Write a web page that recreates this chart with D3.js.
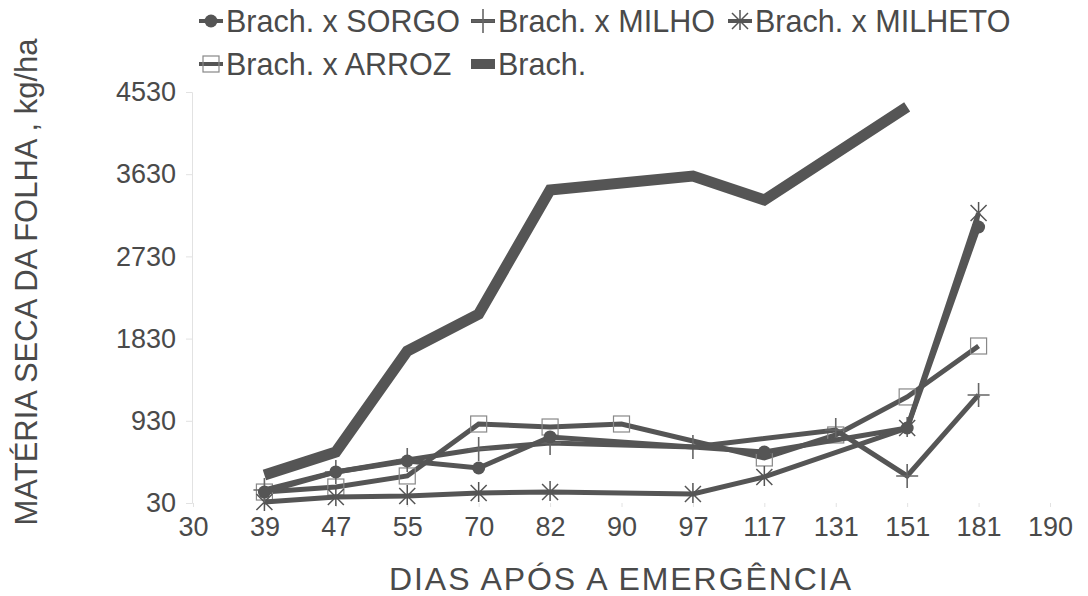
<!doctype html>
<html>
<head>
<meta charset="utf-8">
<script src="https://d3js.org/d3.v7.min.js"></script>
<style>
  body { margin: 0; background: #fff; }
  text { font-family: "Liberation Sans", Arial, sans-serif; fill: #4a4a4a; }
</style>
</head>
<body>
<svg width="1088" height="596"></svg>
<script>

// x categories (days after emergence); 30 and 190 are only axis ends
var xLabels = ["30", "39", "47", "55", "70", "82", "90", "97", "117", "131", "151", "181", "190"];
var dias = ["39", "47", "55", "70", "82", "90", "97", "117", "131", "151", "181"];
var yTicks = [30, 930, 1830, 2730, 3630, 4530];

// values (null = no point at that date)
var sorgo   = [150, 370, 490, 413, 753, null, null, 588, null, 851, 3052];
var milho   = [172, 370, 501, 621, 687, null, 643, null, 829, 326, 1213];
var milheto = [41, 96, 107, 140, 150, null, 129, 315, null, 851, 3205];
var arroz   = [150, 205, 326, 895, 862, 895, null, 523, 775, 1191, 1749];
var brach   = [337, 588, 1694, 2099, 3457, null, 3610, 3348, null, 4366, null];

var ink = "#555";

var svg = d3.select("svg");

var x = d3.scalePoint().domain(xLabels).range([193, 1050]);
var y = d3.scaleLinear().domain([30, 4530]).range([503, 92]);

// faint axes
var yAxis = svg.append("g")
    .attr("transform", "translate(192,0)")
    .call(d3.axisLeft(y).tickValues(yTicks).tickFormat(d3.format("d")).tickSize(6).tickPadding(10));
yAxis.select(".domain").attr("stroke", "#e2e2e2");
yAxis.selectAll(".tick line").attr("stroke", "#e2e2e2");
yAxis.selectAll("text")
    .style("font-size", "27px")
    .attr("fill", "#4a4a4a")
    .attr("font-family", "Liberation Sans, Arial, sans-serif");

var xAxis = svg.append("g")
    .attr("transform", "translate(0,503)")
    .call(d3.axisBottom(x).tickSize(4).tickPadding(10));
xAxis.select(".domain").attr("stroke", "none");
xAxis.selectAll(".tick line").attr("stroke", "#e2e2e2");
xAxis.selectAll("text")
    .style("font-size", "27px")
    .attr("fill", "#4a4a4a")
    .attr("font-family", "Liberation Sans, Arial, sans-serif");

// axis titles
svg.append("text")
    .attr("x", 620)
    .attr("y", 590)
    .attr("text-anchor", "middle")
    .style("font-size", "32px")
    .attr("textLength", 462)
    .text("DIAS APÓS A EMERGÊNCIA");

svg.append("text")
    .attr("transform", "translate(37,282) rotate(-90)")
    .attr("text-anchor", "middle")
    .style("font-size", "31px")
    .text("MATÉRIA SECA DA FOLHA , kg/ha");

function pts(vals) {
    return dias.map(function(d, i) { return { d: d, v: vals[i] }; })
        .filter(function(p) { return p.v !== null; });
}

var line = d3.line()
    .x(function(p) { return x(p.d); })
    .y(function(p) { return y(p.v); });

// marker painters
function dot(g, cx, cy) {
    g.append("circle").attr("cx", cx).attr("cy", cy).attr("r", 6.5).attr("fill", ink);
}
function plus(g, cx, cy) {
    g.append("path")
        .attr("d", "M" + (cx - 11) + "," + cy + "H" + (cx + 11) + "M" + cx + "," + (cy - 12) + "V" + (cy + 12))
        .attr("stroke", "#666").attr("stroke-width", 1.6).attr("fill", "none");
}
function star(g, cx, cy) {
    var s = 8;
    g.append("path")
        .attr("d", "M" + (cx - s) + "," + (cy - s) + "L" + (cx + s) + "," + (cy + s) +
                   "M" + (cx - s) + "," + (cy + s) + "L" + (cx + s) + "," + (cy - s) +
                   "M" + cx + "," + (cy - s - 3) + "V" + (cy + s + 1))
        .attr("stroke", "#555").attr("stroke-width", 1.5).attr("fill", "none");
}
function square(g, cx, cy) {
    g.append("rect").attr("x", cx - 8).attr("y", cy - 8).attr("width", 16).attr("height", 16)
        .attr("fill", "none").attr("stroke", "#888").attr("stroke-width", 1.2);
}

var series = [
    { name: "Brach.", vals: brach, w: 11, mark: null },
    { name: "Brach. x ARROZ", vals: arroz, w: 5, mark: square },
    { name: "Brach. x MILHETO", vals: milheto, w: 5, mark: star },
    { name: "Brach. x MILHO", vals: milho, w: 5, mark: plus },
    { name: "Brach. x SORGO", vals: sorgo, w: 5, mark: dot }
];

series.forEach(function(s) {
    var g = svg.append("g");
    var p = pts(s.vals);
    g.append("path")
        .datum(p)
        .attr("d", line)
        .attr("fill", "none")
        .attr("stroke", ink)
        .attr("stroke-width", s.w)
        .attr("stroke-linejoin", "miter");
    if (s.mark) {
        p.forEach(function(q) { s.mark(g, x(q.d), y(q.v)); });
    }
});

// legend
var legend = [
    { name: "Brach. x SORGO", mark: dot, lx: 199, ly: 21 },
    { name: "Brach. x MILHO", mark: plus, lx: 471, ly: 21 },
    { name: "Brach. x MILHETO", mark: star, lx: 728, ly: 21 },
    { name: "Brach. x ARROZ", mark: square, lx: 199, ly: 64 },
    { name: "Brach.", mark: null, lx: 471, ly: 64 }
];

legend.forEach(function(l) {
    var g = svg.append("g");
    g.append("line")
        .attr("x1", l.lx).attr("x2", l.lx + 24)
        .attr("y1", l.ly).attr("y2", l.ly)
        .attr("stroke", ink)
        .attr("stroke-width", l.mark ? 4 : 10);
    if (l.mark) l.mark(g, l.lx + 12, l.ly);
    g.append("text")
        .attr("x", l.lx + 27)
        .attr("y", l.ly + 11)
        .style("font-size", "30.5px")
        .text(l.name);
});

</script>
</body>
</html>
